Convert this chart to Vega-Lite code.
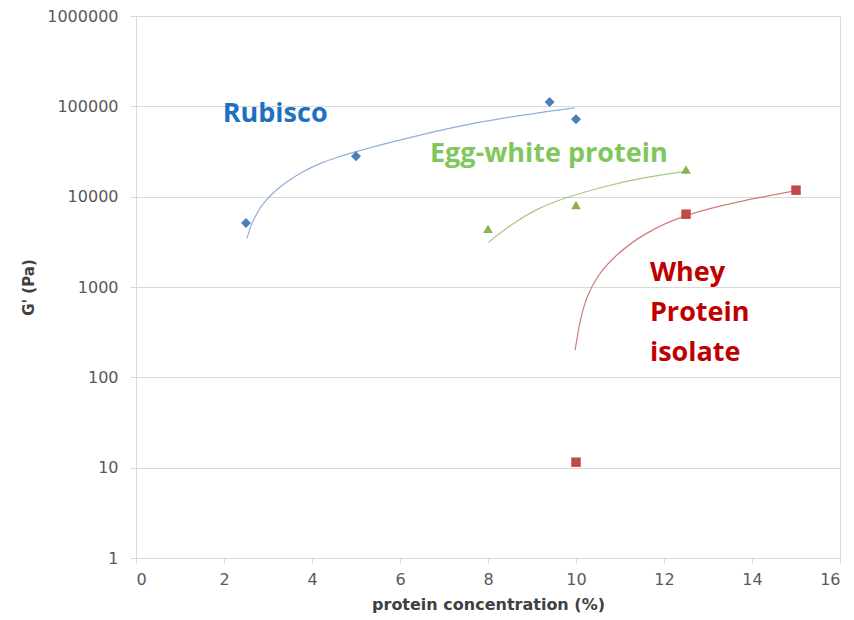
{
  "$schema": "https://vega.github.io/schema/vega-lite/v6.json",
  "width": 704,
  "height": 542,
  "autosize": {"type": "none"},
  "padding": {"left": 136, "top": 16, "right": 14, "bottom": 62},
  "background": "white",
  "config": {
    "view": {"stroke": "#d9d9d9", "strokeWidth": 1},
    "axis": {
      "labelFont": "DejaVu Sans",
      "labelFontSize": 16,
      "labelColor": "#595959",
      "titleFont": "DejaVu Sans",
      "titleFontWeight": "bold",
      "titleColor": "#404040",
      "domainColor": "#d9d9d9",
      "tickColor": "#d9d9d9",
      "gridColor": "#d9d9d9"
    }
  },
  "datasets": {
    "points": [
      {"series": "Rubisco", "conc": 2.5, "G": 5100},
      {"series": "Rubisco", "conc": 5, "G": 28000},
      {"series": "Rubisco", "conc": 9.4, "G": 112000},
      {"series": "Rubisco", "conc": 10, "G": 72000},
      {"series": "Egg-white protein", "conc": 8, "G": 4400},
      {"series": "Egg-white protein", "conc": 10, "G": 8100},
      {"series": "Egg-white protein", "conc": 12.5, "G": 20000},
      {"series": "Whey Protein isolate", "conc": 10, "G": 11.5},
      {"series": "Whey Protein isolate", "conc": 12.5, "G": 6400},
      {"series": "Whey Protein isolate", "conc": 15, "G": 11800}
    ],
    "trends": [
      {"series": "Rubisco", "conc": 2.523, "G": 3452},
      {"series": "Rubisco", "conc": 2.591, "G": 4490},
      {"series": "Rubisco", "conc": 2.659, "G": 5369},
      {"series": "Rubisco", "conc": 2.773, "G": 6926},
      {"series": "Rubisco", "conc": 2.886, "G": 8282},
      {"series": "Rubisco", "conc": 3.03, "G": 10025},
      {"series": "Rubisco", "conc": 3.227, "G": 12294},
      {"series": "Rubisco", "conc": 3.409, "G": 14512},
      {"series": "Rubisco", "conc": 3.789, "G": 18967},
      {"series": "Rubisco", "conc": 4.166, "G": 23260},
      {"series": "Rubisco", "conc": 4.545, "G": 27100},
      {"series": "Rubisco", "conc": 4.925, "G": 30790},
      {"series": "Rubisco", "conc": 5.545, "G": 37270},
      {"series": "Rubisco", "conc": 6.039, "G": 42880},
      {"series": "Rubisco", "conc": 6.795, "G": 52600},
      {"series": "Rubisco", "conc": 7.552, "G": 63680},
      {"series": "Rubisco", "conc": 8.689, "G": 79080},
      {"series": "Rubisco", "conc": 9.977, "G": 96500},
      {"series": "Egg-white protein", "conc": 8.01, "G": 3120},
      {"series": "Egg-white protein", "conc": 8.5, "G": 4850},
      {"series": "Egg-white protein", "conc": 9.11, "G": 7420},
      {"series": "Egg-white protein", "conc": 9.86, "G": 10150},
      {"series": "Egg-white protein", "conc": 10.77, "G": 13450},
      {"series": "Egg-white protein", "conc": 11.6, "G": 16600},
      {"series": "Egg-white protein", "conc": 12.44, "G": 18900},
      {"series": "Whey Protein isolate", "conc": 9.98, "G": 200},
      {"series": "Whey Protein isolate", "conc": 10.09, "G": 430},
      {"series": "Whey Protein isolate", "conc": 10.24, "G": 780},
      {"series": "Whey Protein isolate", "conc": 10.47, "G": 1300},
      {"series": "Whey Protein isolate", "conc": 10.85, "G": 2160},
      {"series": "Whey Protein isolate", "conc": 11.53, "G": 3920},
      {"series": "Whey Protein isolate", "conc": 12.48, "G": 6370},
      {"series": "Whey Protein isolate", "conc": 13.65, "G": 8790},
      {"series": "Whey Protein isolate", "conc": 14.94, "G": 11530}
    ],
    "labels": [
      {"series": "Rubisco", "text": "Rubisco", "conc": 1.97, "G": 83200},
      {"series": "Egg-white protein", "text": "Egg-white protein", "conc": 6.68, "G": 29600},
      {"series": "Whey Protein isolate", "text": "Whey", "conc": 11.68, "G": 1425},
      {"series": "Whey Protein isolate", "text": "Protein", "conc": 11.68, "G": 514},
      {"series": "Whey Protein isolate", "text": "isolate", "conc": 11.68, "G": 185}
    ]
  },
  "encoding": {
    "x": {
      "field": "conc", "type": "quantitative",
      "scale": {"domain": [0, 16], "nice": false, "zero": false},
      "axis": {
        "title": "protein concentration (%)",
        "values": [0, 2, 4, 6, 8, 10, 12, 14, 16],
        "grid": false,
        "tickSize": 5,
        "labelPadding": 8,
        "titleFontSize": 16,
        "titlePadding": 9
      }
    },
    "y": {
      "field": "G", "type": "quantitative",
      "scale": {"type": "log", "domain": [1, 1000000], "nice": false},
      "axis": {
        "title": "G' (Pa)",
        "values": [1, 10, 100, 1000, 10000, 100000, 1000000],
        "format": "d",
        "grid": true,
        "tickSize": 6,
        "labelPadding": 12,
        "titleFontSize": 15,
        "titlePadding": 10
      }
    }
  },
  "layer": [
    {
      "data": {"name": "trends"},
      "mark": {"type": "line", "interpolate": "basis", "strokeWidth": 1.2, "opacity": 0.75},
      "encoding": {
        "color": {
          "field": "series", "type": "nominal", "legend": null,
          "scale": {"domain": ["Rubisco", "Egg-white protein", "Whey Protein isolate"], "range": ["#6f93cf", "#8fb55a", "#c0504d"]}
        }
      }
    },
    {
      "data": {"name": "points"},
      "mark": {"type": "point", "filled": true, "opacity": 1},
      "encoding": {
        "color": {
          "field": "series", "type": "nominal", "legend": null,
          "scale": {"domain": ["Rubisco", "Egg-white protein", "Whey Protein isolate"], "range": ["#4a7ebb", "#8ab24f", "#be4b48"]}
        },
        "shape": {
          "field": "series", "type": "nominal", "legend": null,
          "scale": {"domain": ["Rubisco", "Egg-white protein", "Whey Protein isolate"], "range": ["diamond", "triangle-up", "square"]}
        },
        "size": {
          "field": "series", "type": "nominal", "legend": null,
          "scale": {"domain": ["Rubisco", "Egg-white protein", "Whey Protein isolate"], "range": [100, 90, 36]}
        }
      }
    },
    {
      "data": {"name": "labels"},
      "mark": {"type": "text", "align": "left", "baseline": "middle", "font": "Open Sans", "fontWeight": "bold", "fontSize": 27},
      "encoding": {
        "text": {"field": "text"},
        "color": {
          "field": "series", "type": "nominal", "legend": null,
          "scale": {"domain": ["Rubisco", "Egg-white protein", "Whey Protein isolate"], "range": ["#1f70c1", "#7fc75a", "#c00000"]}
        }
      }
    }
  ],
  "resolve": {"scale": {"color": "independent"}}
}
